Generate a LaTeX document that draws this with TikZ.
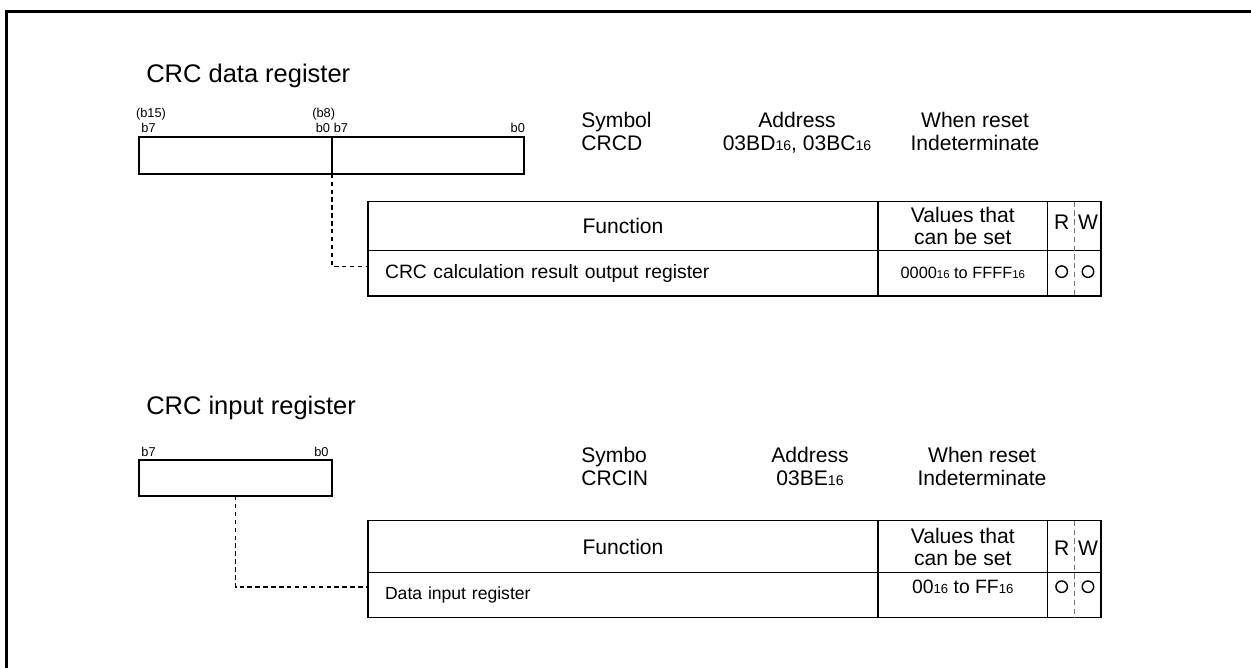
\documentclass[tikz,border=0pt]{standalone}
\usepackage{fontspec}
\setmainfont{Liberation Sans}
\usepackage{tikz}
\usetikzlibrary{positioning,calc}
\newcommand{\hexsix}[1]{{\fontsize{#1}{#1}\selectfont 16}}
\tikzset{
  frameline/.style={draw, line width=1.5pt},
  regbox/.style={rectangle, draw, line width=1.1pt, inner sep=0pt, outer sep=0pt,
    minimum height=0.73cm},
  bitlabel/.style={font=\fontsize{7.3}{8}\selectfont, inner sep=0pt},
  regtitle/.style={font=\fontsize{14.5}{16}\selectfont, inner sep=0pt, anchor=base west},
  info/.style={font=\fontsize{12}{13}\selectfont, inner sep=0pt, align=center, anchor=base},
  cell/.style={rectangle, draw, line width=0.85pt, inner sep=0pt, outer sep=0pt,
    align=center, font=\fontsize{12}{12.3}\selectfont},
  textcell/.style={cell, text width=9.52cm, inner xsep=0.34cm, align=left,
    font=\fontsize{11}{12}\selectfont},
  rwlabel/.style={font=\fontsize{12}{12}\selectfont, inner sep=0pt},
  leader/.style={line width=0.9pt, dash pattern=on 2.5pt off 2pt},
  rwsep/.style={line width=0.4pt, dash pattern=on 3pt off 2pt, draw=black!55},
  okmark/.style={circle, draw, line width=0.8pt, inner sep=0pt, minimum size=0.23cm},
}

\begin{document}
\begin{tikzpicture}[x=0.02cm, y=-0.02cm, node distance=0pt]
  \useasboundingbox (0,0) rectangle (1251,667);
  \begin{scope}
    \clip (0,0) rectangle (1251,667);
    \draw[frameline] (6.5,11.5) rectangle (1262,680);
  \end{scope}

  % CRC data register
  \node[regtitle] (t1) at (146,82) {CRC data register};
  \node[regbox, minimum width=3.854cm] (hi) at (235.65,155.5) {};
  \node[regbox, minimum width=3.846cm, right=of hi] (lo) {};
  \node[bitlabel, anchor=base west] at ($(hi.north west)+(-3.6,-19.3)$) {(b15)};
  \node[bitlabel, anchor=base west] at ($(hi.north west)+(1.7,-4.3)$) {b7};
  \node[bitlabel, anchor=base west] at ($(hi.north east)+(-20,-19.3)$) {(b8)};
  \node[bitlabel, anchor=base east] at ($(hi.north east)+(-1.5,-4.3)$) {b0};
  \node[bitlabel, anchor=base west] at ($(lo.north west)+(1.5,-4.3)$) {b7};
  \node[bitlabel, anchor=base east] at ($(lo.north east)+(1,-4.3)$) {b0};

  \node[info, anchor=base west, align=left] (sym1) at (581,150.5) {Symbol\\CRCD};
  \node[info] (adr1) at (797,150.5) {Address\\03BD\hexsix{8}, 03BC\hexsix{8}};
  \node[info] (rst1) at (975,150.5) {When reset\\Indeterminate};

  \node[cell, minimum width=10.2cm, minimum height=0.972cm] (fn1h) at (623,226) {Function};
  \node[cell, minimum width=3.394cm, minimum height=0.972cm, right=of fn1h] (val1h)
    {Values that\\can be set};
  \node[cell, minimum width=1.066cm, minimum height=0.972cm, right=of val1h] (rw1h) {};
  \node[textcell, minimum height=0.914cm, below=of fn1h] (fn1r)
    {CRC calculation result output register};
  \node[cell, minimum width=3.394cm, minimum height=0.914cm, below=of val1h,
    font=\fontsize{9.3}{9.3}\selectfont] (val1r) {0000\hexsix{6.5} to FFFF\hexsix{6.5}};
  \node[cell, minimum width=1.066cm, minimum height=0.914cm, below=of rw1h] (rw1r) {};
  \draw[rwsep] (rw1h.north) -- (rw1r.south);
  \node[rwlabel] at ($(rw1h.center)+(-12.6,-4)$) {R};
  \node[rwlabel] at ($(rw1h.center)+(13.7,-4)$) {W};
  \node[okmark] at ($(rw1r.center)+(-12.6,-1.5)$) {};
  \node[okmark] at ($(rw1r.center)+(13.7,-1.5)$) {};
  \draw[leader] (hi.south east) |- ([yshift=0.133cm]fn1r.west);

  % CRC input register
  \node[regtitle] (t2) at (146,414) {CRC input register};
  \node[regbox, minimum width=3.854cm] (reg2) at (235.65,477.8) {};
  \node[bitlabel, anchor=base west] at ($(reg2.north west)+(1.7,-3.5)$) {b7};
  \node[bitlabel, anchor=base east] at ($(reg2.north east)+(-3,-3.5)$) {b0};

  \node[info, anchor=base west, align=left] (sym2) at (581,485.5) {Symbo\\CRCIN};
  \node[info] (adr2) at (810,485.5) {Address\\03BE\hexsix{8}};
  \node[info] (rst2) at (982,485.5) {When reset\\Indeterminate};

  \node[cell, minimum width=10.2cm, minimum height=1.04cm] (fn2h) at (623,546.7) {Function};
  \node[cell, minimum width=3.394cm, minimum height=1.04cm, right=of fn2h] (val2h)
    {Values that\\can be set};
  \node[cell, minimum width=1.066cm, minimum height=1.04cm, right=of val2h] (rw2h) {};
  \node[textcell, minimum height=0.9cm, below=of fn2h, font=\fontsize{10}{11}\selectfont]
    (fn2r) {Data input register};
  \node[cell, minimum width=3.394cm, minimum height=0.9cm, below=of val2h] (val2r) {};
  \node[cell, minimum width=1.066cm, minimum height=0.9cm, below=of rw2h] (rw2r) {};
  \node[font=\fontsize{11}{11}\selectfont, inner sep=0pt] at ($(val2r.center)+(0,-8.5)$)
    {00\hexsix{7.5} to FF\hexsix{7.5}};
  \draw[rwsep] (rw2h.north) -- (rw2r.south);
  \node[rwlabel] at ($(rw2h.center)+(-12.6,1.6)$) {R};
  \node[rwlabel] at ($(rw2h.center)+(13.7,1.6)$) {W};
  \node[okmark] at ($(rw2r.center)+(-12.6,-8.5)$) {};
  \node[okmark] at ($(rw2r.center)+(13.7,-8.5)$) {};
  \draw[leader] (reg2.south) |- ([yshift=0.164cm]fn2r.west);
\end{tikzpicture}
\end{document}
